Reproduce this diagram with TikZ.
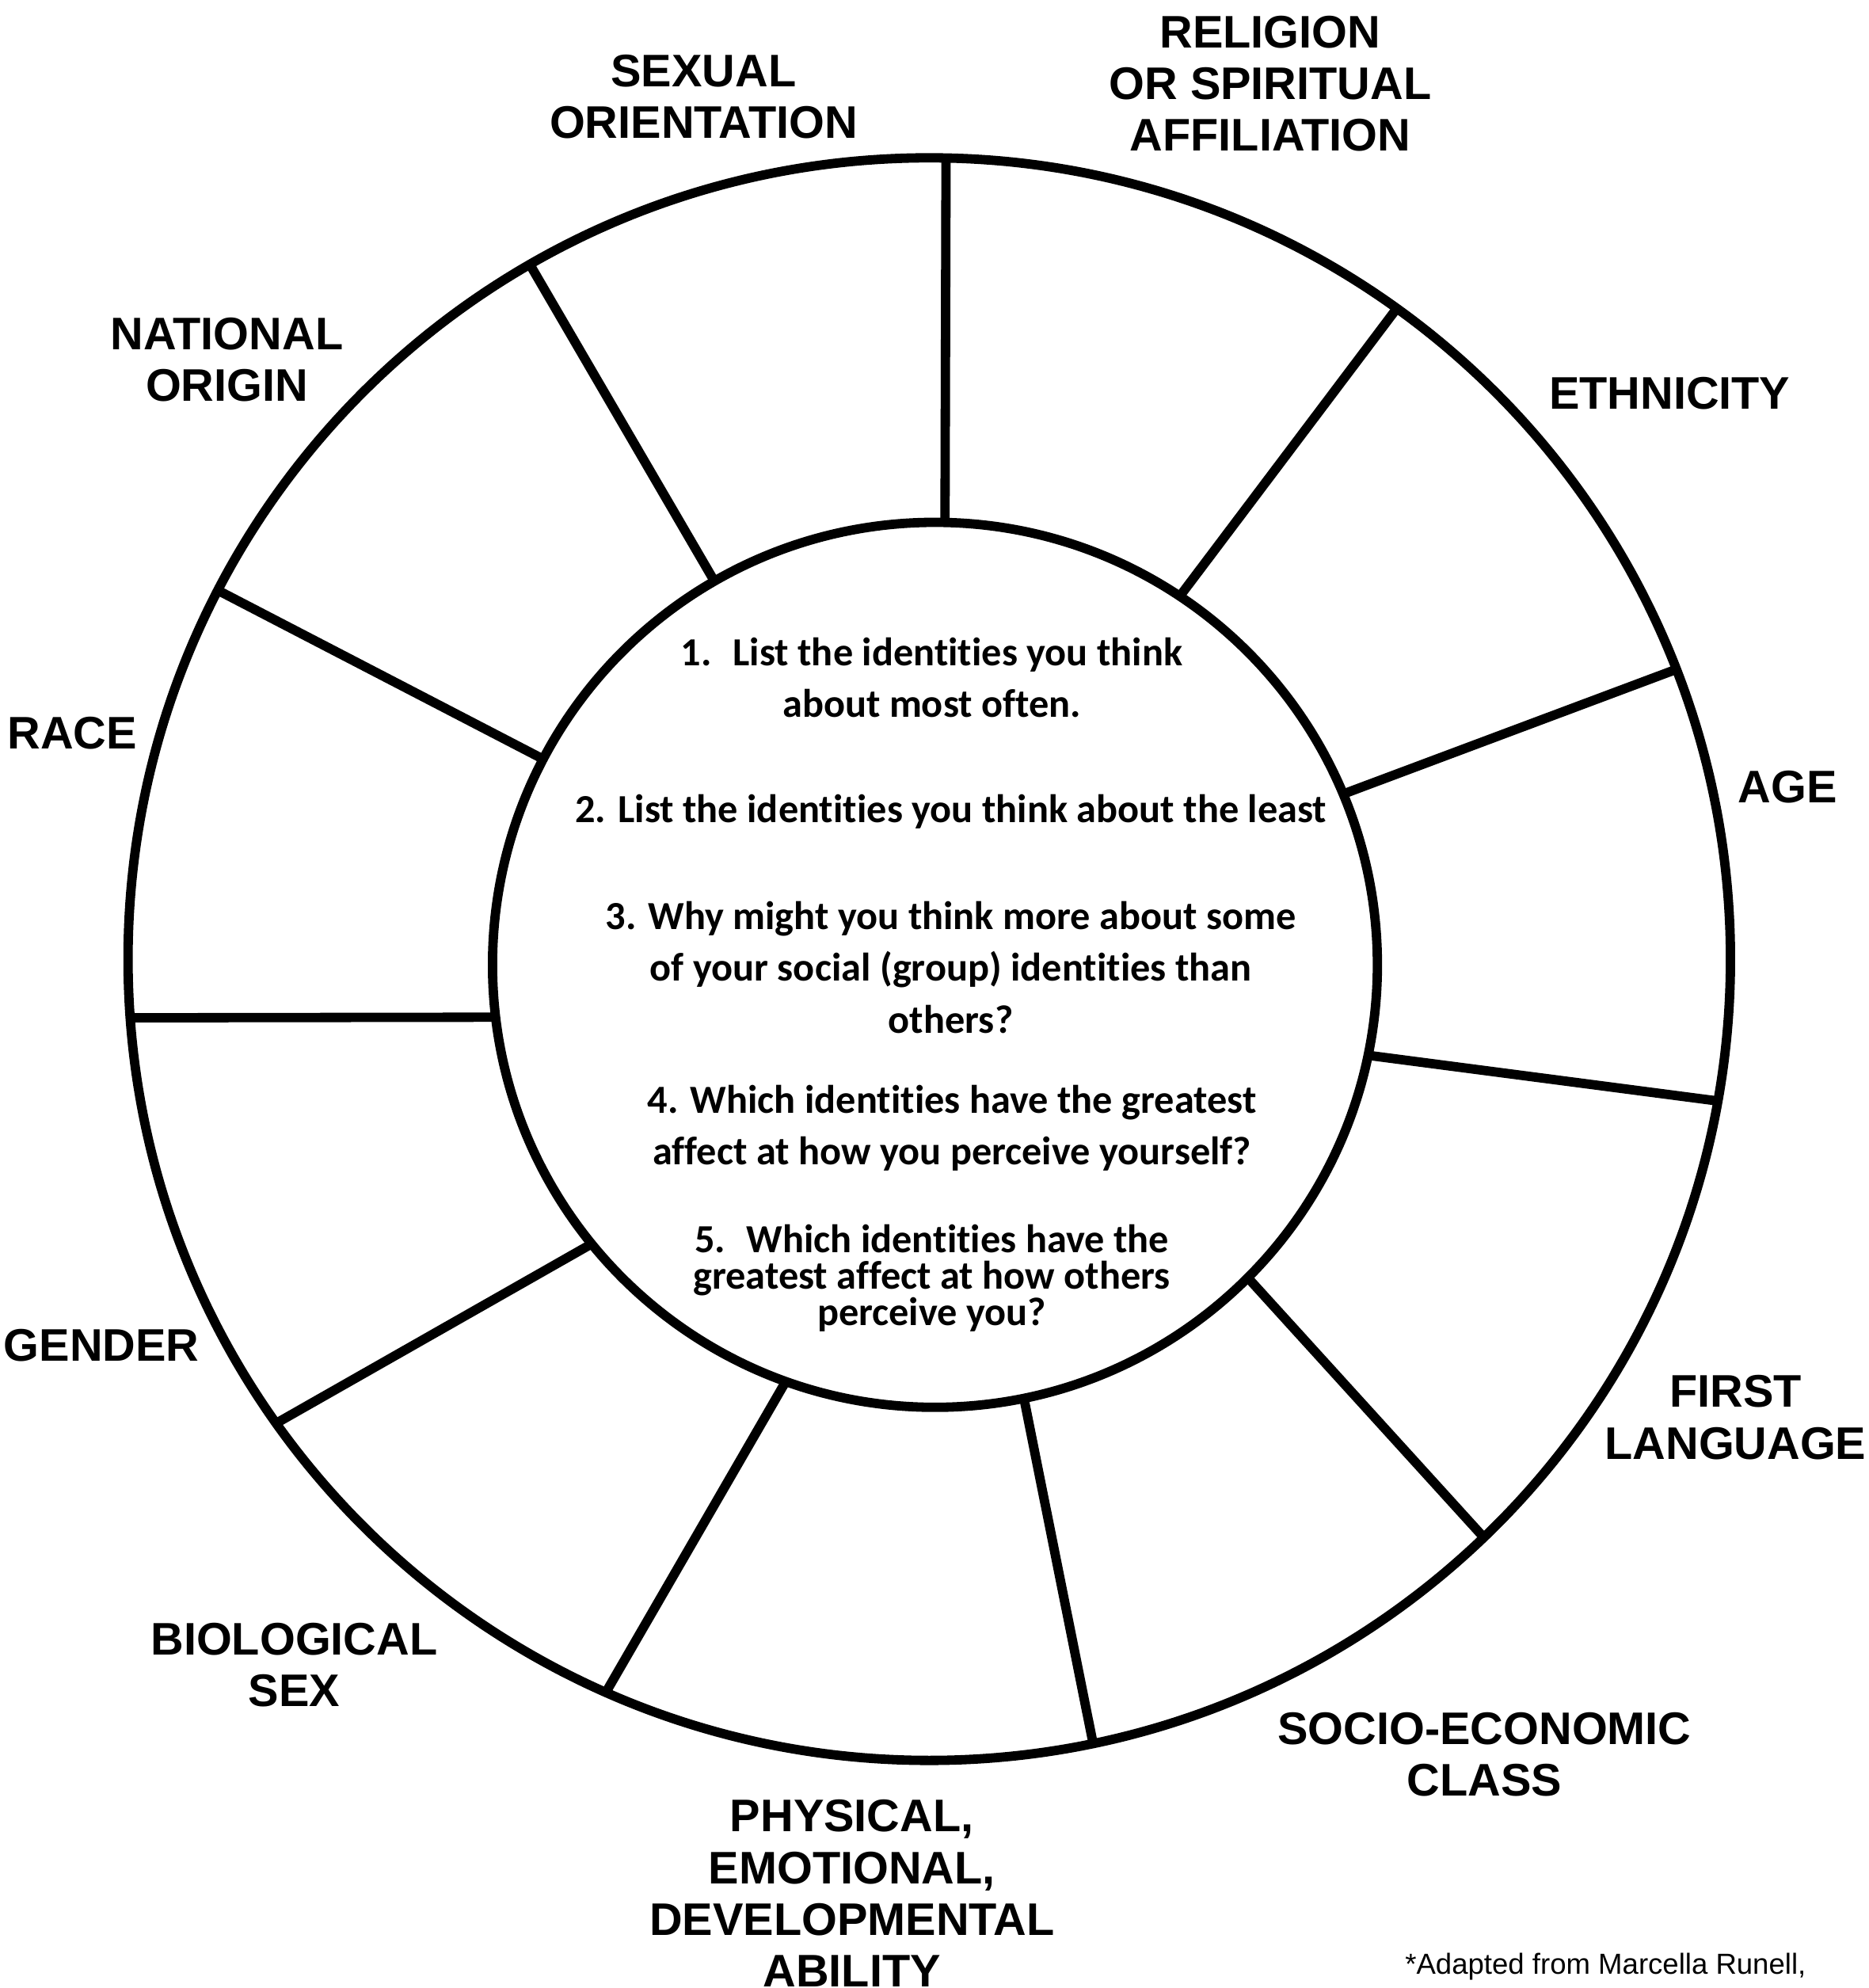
\documentclass[tikz,border=0pt]{standalone}
\usepackage{fontspec}
\setmainfont{Liberation Sans}
\newfontfamily\qfont[Ligatures=NoCommon]{Carlito}
\usetikzlibrary{calc}

\begin{document}
\begin{tikzpicture}[x=0.02cm,y=0.02cm,line width=4.2pt,
  idlabel/.style={font=\bfseries\fontsize{20.5}{23.2}\selectfont,align=center},
  qtext/.style={font=\qfont\bfseries\fontsize{17.9}{23.2}\selectfont,align=center}]
  \useasboundingbox (0,0) rectangle (1474,1568);
  \coordinate (co) at (733,811.5);
  \coordinate (ci) at (737.5,807);
  \draw (co) circle [radius=632];
  \draw (ci) circle [radius=349];
  \foreach \a/\b in {88.8/88.7,54.3/56.4,21.2/22.7,-10.2/-11.8,-46.2/-45,-78.2/-78.4,
                     -113.8/-109.7,-144.6/-140.9,-175.8/-173.2,152.6/152.3,119.9/119.9}
    \draw ($(co)+(\a:632)$) -- ($(ci)+(\b:349)$);

  \node[idlabel] (sex)    at (555,1491.5)  {SEXUAL\\ORIENTATION};
  \node[idlabel] (rel)    at (1002,1502)   {RELIGION\\OR SPIRITUAL\\AFFILIATION};
  \node[idlabel] (nat)    at (179,1284.5)  {NATIONAL\\ORIGIN};
  \node[idlabel] (eth)    at (1317,1258)   {ETHNICITY};
  \node[idlabel] (race)   at (57,990)      {RACE};
  \node[idlabel] (age)    at (1410,947)    {AGE};
  \node[idlabel] (gender) at (80,507)      {GENDER};
  \node[idlabel] (lang)   at (1369,450)    {FIRST\\LANGUAGE};
  \node[idlabel] (bio)    at (232,255)     {BIOLOGICAL\\SEX};
  \node[idlabel] (class)  at (1171,184)    {SOCIO-ECONOMIC\\CLASS};
  \node[idlabel] (abil)   at (672,74.5)    {PHYSICAL,\\EMOTIONAL,\\DEVELOPMENTAL\\ABILITY};
  \node[font=\fontsize{13}{15}\selectfont] (src) at (1266.5,17) {*Adapted from Marcella Runell,};

  \node[qtext] (q1) at (735,1033.5) {1.~ List the identities you think\\about most often.};
  \node[qtext] (q2) at (750,928)    {2. List the identities you think about the least};
  \node[qtext] (q3) at (750,805)    {3. Why might you think more about some\\of your social (group) identities than\\others?};
  \node[qtext] (q4) at (751,678)    {4. Which identities have the greatest\\affect at how you perceive yourself?};
  \node[qtext,font=\qfont\bfseries\fontsize{17.9}{16.4}\selectfont] (q5) at (735,560)
    {5.~ Which identities have the\\greatest affect at how others\\perceive you?};
\end{tikzpicture}
\end{document}
